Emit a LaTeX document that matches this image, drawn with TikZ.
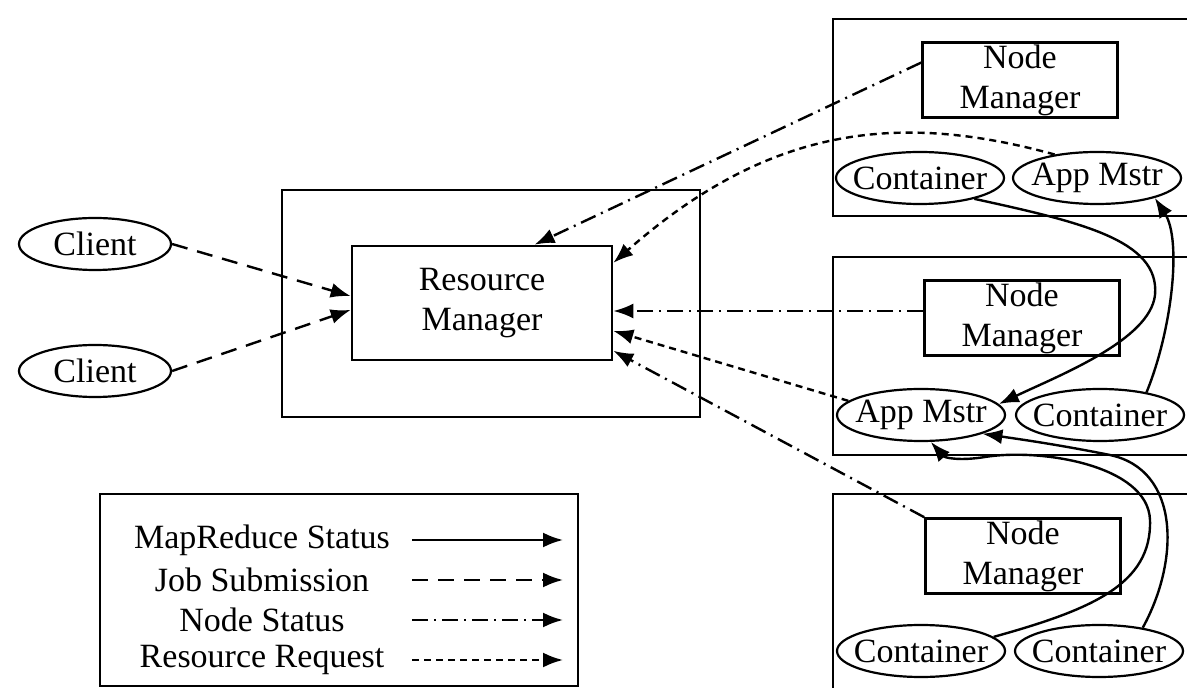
\documentclass[tikz,border=0pt]{standalone}
\usepackage{fontspec}
\setmainfont{Liberation Serif}
\usetikzlibrary{arrows.meta,shapes.geometric}

\begin{document}
\begin{tikzpicture}[x=0.5pt, y=-0.5pt,
  font=\fontsize{17}{20}\selectfont,
  mgr/.style={draw, line width=1.3pt, align=center, inner sep=0pt},
  proc/.style={draw, ellipse, line width=1.1pt, inner xsep=-4.5pt, inner ysep=0pt,
    minimum width=84pt, minimum height=26pt},
  arr/.style={-{Latex[length=10pt,width=7.5pt]}, line width=1.2pt},
  mrstat/.style={arr},
  jobsub/.style={arr, dash pattern=on 8pt off 5pt},
  nodestat/.style={arr, dash pattern=on 8pt off 3pt on 1pt off 3pt},
  resreq/.style={arr, dash pattern=on 3.5pt off 2.5pt}]
\clip (0,0) rectangle (1187,688);
% outer frames
\draw[line width=1.4pt] (282,190) rectangle (700,417);   % resource manager host
\draw[line width=1.4pt] (833,19)  rectangle (1200,216);  % node 1
\draw[line width=1.4pt] (833,257) rectangle (1200,455);  % node 2
\draw[line width=1.4pt] (833,494) rectangle (1200,700);  % node 3
\draw[line width=1.4pt] (100,494) rectangle (578,686);   % legend
% managers
\node[mgr, minimum width=130pt, minimum height=57pt] (rm) at (482,303) {Resource\\Manager};
\node[mgr, minimum width=97.5pt, minimum height=37.5pt] (nm1) at (1020,80)  {Node\\Manager};
\node[mgr, minimum width=97.5pt, minimum height=37.5pt] (nm2) at (1022,318) {Node\\Manager};
\node[mgr, minimum width=97.5pt, minimum height=37.5pt] (nm3) at (1023,556) {Node\\Manager};
% clients, containers, app masters
\node[proc, minimum width=76pt] (cl1) at (95,244) {Client};
\node[proc, minimum width=76pt] (cl2) at (95,371) {Client};
\node[proc] (ct1) at (920,178)  {Container};
\node[proc] (am1) at (1097,178) {App Mstr};
\node[proc] (am2) at (921,415)  {App Mstr};
\node[proc] (ct2) at (1100,415) {Container};
\node[proc] (ct3) at (921,651)  {Container};
\node[proc] (ct4) at (1099,651) {Container};
% job submission
\draw[jobsub] (cl1.east) -- (rm.177);
\draw[jobsub] (cl2.east) -- (rm.183);
% node status
\draw[nodestat] (nm1.170) -- (rm.48);
\draw[nodestat] ([yshift=3.5pt]nm2.west) -- ([yshift=3.5pt]nm2.west -| rm.east);
\draw[nodestat] (nm3.north west) -- (rm.-20);
% resource requests
\draw[resreq] (am1.151) .. controls (900,112) and (770,125) .. (rm.17.5);
\draw[resreq] (am2.169) -- (rm.-12);
% mapreduce status
\draw[mrstat] (ct1.-21) .. controls (1080,222) and (1160,240) .. (1155,295)
  .. controls (1150,340) and (1060,375) .. (am2.8);
\draw[mrstat] (ct2.26) .. controls (1172,330) and (1182,240) .. (am1.-19);
\draw[mrstat] (ct4.28) .. controls (1180,560) and (1180,470) .. (1110,455)
  .. controls (1060,445) and (1025,440) .. (am2.-17);
\draw[mrstat] (ct3.11) .. controls (1090,610) and (1152,585) .. (1150,520)
  .. controls (1148,465) and (1040,448) .. (985,457)
  .. controls (960,461) and (945,458) .. (am2.-70);
% legend
\node (lg1) at (262,540) {MapReduce Status};
\node (lg2) at (262,580) {Job Submission};
\node (lg3) at (262,620) {Node Status};
\node (lg4) at (262,660) {Resource Request};
\coordinate (la1) at (412,540); \coordinate (lb1) at (563,540);
\coordinate (la2) at (412,580); \coordinate (lb2) at (563,580);
\coordinate (la3) at (412,620); \coordinate (lb3) at (563,620);
\coordinate (la4) at (412,660); \coordinate (lb4) at (563,660);
\draw[mrstat]   (la1) -- (lb1);
\draw[jobsub]   (la2) -- (lb2);
\draw[nodestat] (la3) -- (lb3);
\draw[resreq]   (la4) -- (lb4);
\end{tikzpicture}
\end{document}
